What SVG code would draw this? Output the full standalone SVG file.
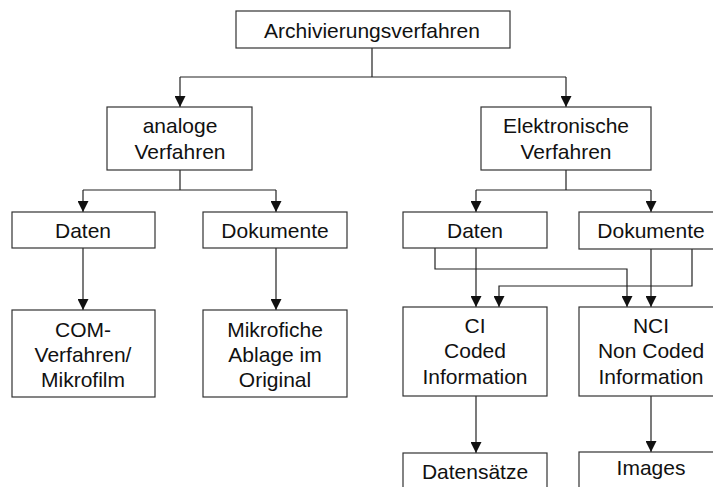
<svg xmlns="http://www.w3.org/2000/svg" width="713" height="487" viewBox="0 0 713 487">
<style>
  .box { fill: #ffffff; stroke: #333333; stroke-width: 1.2; }
  .lbl { font-family: "Liberation Sans", Arial, sans-serif; font-size: 21px; fill: #111111; text-anchor: middle; }
  .con { fill: none; stroke: #222222; stroke-width: 1.2; }
  .arr { marker-end: url(#ah); }
</style>
<defs>
  <marker id="ah" markerUnits="userSpaceOnUse" markerWidth="11" markerHeight="11" viewBox="0 0 10 10" refX="10" refY="5" orient="auto">
    <path d="M0,0 L10,5 L0,10 z" fill="#111111"/>
  </marker>
</defs>
<rect width="713" height="487" fill="#ffffff"/>

<g id="connectors">
  <path class="con" d="M372,48 V77 M180,77 H566"/>
  <path class="con arr" d="M180,77 V107"/>
  <path class="con arr" d="M566,77 V107"/>
  <path class="con" d="M180,170 V190 M83,190 H276"/>
  <path class="con arr" d="M83,190 V212"/>
  <path class="con arr" d="M276,190 V212"/>
  <path class="con" d="M566,170 V190 M476,190 H651"/>
  <path class="con arr" d="M476,190 V212"/>
  <path class="con arr" d="M651,190 V212"/>
  <path class="con arr" d="M83,248 V310"/>
  <path class="con arr" d="M276,248 V310"/>
  <path class="con arr" d="M476,248 V307"/>
  <path class="con arr" d="M435,248 V269 H627 V307"/>
  <path class="con arr" d="M651,249 V307"/>
  <path class="con arr" d="M692,249 V286 H499 V307"/>
  <path class="con arr" d="M476,396 V453"/>
  <path class="con arr" d="M651,396 V452"/>
</g>

<g id="n-root">
  <rect class="box" x="236" y="11" width="274" height="37"/>
  <text class="lbl" x="372" y="38">Archivierungsverfahren</text>
</g>
<g id="n-analog">
  <rect class="box" x="107" y="107" width="145" height="63"/>
  <text class="lbl" x="180" y="133">analoge</text>
  <text class="lbl" x="180" y="159">Verfahren</text>
</g>
<g id="n-elektro">
  <rect class="box" x="481" y="107" width="170" height="63"/>
  <text class="lbl" x="566" y="133">Elektronische</text>
  <text class="lbl" x="566" y="159">Verfahren</text>
</g>
<g id="n-daten-a">
  <rect class="box" x="12" y="212" width="143" height="36"/>
  <text class="lbl" x="83" y="238">Daten</text>
</g>
<g id="n-dok-a">
  <rect class="box" x="203" y="212" width="144" height="36"/>
  <text class="lbl" x="275" y="238">Dokumente</text>
</g>
<g id="n-daten-e">
  <rect class="box" x="403" y="212" width="144" height="36"/>
  <text class="lbl" x="475" y="238">Daten</text>
</g>
<g id="n-dok-e">
  <rect class="box" x="579" y="212" width="144" height="37"/>
  <text class="lbl" x="651" y="238">Dokumente</text>
</g>
<g id="n-com">
  <rect class="box" x="12" y="310" width="143" height="87"/>
  <text class="lbl" x="83" y="337">COM-</text>
  <text class="lbl" x="83" y="362">Verfahren/</text>
  <text class="lbl" x="83" y="387">Mikrofilm</text>
</g>
<g id="n-mikrofiche">
  <rect class="box" x="203" y="310" width="144" height="87"/>
  <text class="lbl" x="275" y="337">Mikrofiche</text>
  <text class="lbl" x="275" y="362">Ablage im</text>
  <text class="lbl" x="275" y="387">Original</text>
</g>
<g id="n-ci">
  <rect class="box" x="403" y="307" width="144" height="89"/>
  <text class="lbl" x="475" y="333">CI</text>
  <text class="lbl" x="475" y="358">Coded</text>
  <text class="lbl" x="475" y="384">Information</text>
</g>
<g id="n-nci">
  <rect class="box" x="579" y="307" width="144" height="89"/>
  <text class="lbl" x="651" y="333">NCI</text>
  <text class="lbl" x="651" y="358">Non Coded</text>
  <text class="lbl" x="651" y="384">Information</text>
</g>
<g id="n-datensaetze">
  <rect class="box" x="403" y="453" width="144" height="50"/>
  <text class="lbl" x="475" y="479">Datensätze</text>
</g>
<g id="n-images">
  <rect class="box" x="579" y="452" width="144" height="50"/>
  <text class="lbl" x="651" y="475">Images</text>
</g>
</svg>
